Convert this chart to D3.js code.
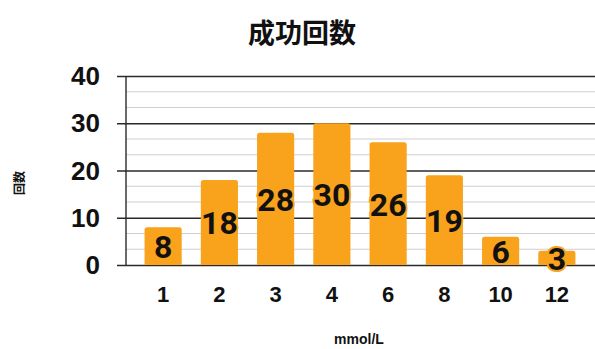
<!DOCTYPE html>
<html>
<head>
<meta charset="utf-8">
<script src="https://cdn.jsdelivr.net/npm/d3@7"></script>
<style>
  html, body { margin: 0; padding: 0; background: #fff; }
  svg { display: block; }
</style>
</head>
<body>
<script>
// Success counts per glucose level (mmol/L)
const categories = ["1", "2", "3", "4", "6", "8", "10", "12"];
const counts = [8, 18, 28, 30, 26, 19, 6, 3];
const yTicks = [0, 10, 20, 30, 40];
const minorTicks = [10/3, 20/3, 40/3, 50/3, 70/3, 80/3, 100/3, 110/3];

const W = 595, H = 349;
const barColor = "#F9A21C";

const svg = d3.select("body").append("svg")
  .attr("width", W).attr("height", H);

const x = d3.scaleBand().domain(categories).range([135, 585]).paddingInner(0.34).paddingOuter(0.17);
const y = d3.scaleLinear().domain([0, 40]).range([265, 76]);

const axisX = 126;

// Title
svg.append("text")
  .attr("x", 302).attr("y", 31)
  .attr("text-anchor", "middle").attr("dominant-baseline", "central")
  .attr("font-family", "'Noto Sans CJK JP', sans-serif")
  .attr("font-weight", 700).attr("font-size", 27)
  .attr("fill", "#111")
  .text("成功回数");

// Minor gridlines
svg.append("g").selectAll("line").data(minorTicks).join("line")
  .attr("x1", axisX).attr("x2", W)
  .attr("y1", d => y(d)).attr("y2", d => y(d))
  .attr("stroke", "#cfcfcf").attr("stroke-width", 1.2);

// Major gridlines with left ticks
const yAxis = d3.axisLeft(y).tickValues(yTicks).tickSize(-(W - axisX)).tickPadding(0).tickFormat("");
const gy = svg.append("g").attr("transform", `translate(${axisX},0)`).call(yAxis);
gy.select(".domain").remove();
gy.selectAll(".tick line").attr("stroke", "#2a2a2a").attr("stroke-width", 1.4)
  .attr("x1", -9);

// Vertical axis line
svg.append("line")
  .attr("x1", axisX).attr("x2", axisX)
  .attr("y1", y(40)).attr("y2", y(0))
  .attr("stroke", "#2a2a2a").attr("stroke-width", 1.4);

// Y tick labels
svg.append("g").selectAll("text").data(yTicks).join("text")
  .attr("x", 100).attr("y", d => y(d))
  .attr("text-anchor", "end").attr("dominant-baseline", "central")
  .attr("font-family", "'Liberation Sans', Arial, sans-serif")
  .attr("font-weight", 700).attr("font-size", 26)
  .attr("fill", "#111")
  .text(d => d);

// Bars with rounded top corners
const r = 2.5;
svg.append("g").selectAll("path").data(counts).join("path")
  .attr("d", (d, i) => {
    const x0 = x(categories[i]), w = x.bandwidth();
    const top = y(d), bot = y(0);
    return `M${x0},${bot} V${top + r} Q${x0},${top} ${x0 + r},${top} H${x0 + w - r} Q${x0 + w},${top} ${x0 + w},${top + r} V${bot} Z`;
  })
  .attr("fill", barColor);

// Value labels inside bars
svg.append("g").selectAll("text").data(counts).join("text")
  .attr("x", (d, i) => x(categories[i]) + x.bandwidth() / 2)
  .attr("y", d => (y(d) + y(0)) / 2 + 1)
  .attr("text-anchor", "middle").attr("dominant-baseline", "central")
  .attr("font-family", "Roboto, 'Liberation Sans', sans-serif")
  .attr("font-weight", 700).attr("font-size", 32)
  .attr("fill", "#111")
  .attr("stroke", barColor).attr("stroke-width", 4)
  .attr("stroke-linejoin", "round")
  .attr("paint-order", "stroke")
  .text(d => d);

// X tick labels
svg.append("g").selectAll("text").data(categories).join("text")
  .attr("x", d => x(d) + x.bandwidth() / 2)
  .attr("y", 302)
  .attr("text-anchor", "middle")
  .attr("font-family", "'Liberation Sans', Arial, sans-serif")
  .attr("font-weight", 700).attr("font-size", 22)
  .attr("fill", "#111")
  .text(d => d);

// Axis titles
svg.append("text")
  .attr("x", 359).attr("y", 344)
  .attr("text-anchor", "middle")
  .attr("font-family", "'Liberation Sans', Arial, sans-serif")
  .attr("font-weight", 700).attr("font-size", 14)
  .attr("fill", "#111")
  .text("mmol/L");

svg.append("text")
  .attr("transform", "translate(18,183) rotate(-90)")
  .attr("text-anchor", "middle").attr("dominant-baseline", "central")
  .attr("font-family", "'Noto Sans CJK JP', sans-serif")
  .attr("font-weight", 700).attr("font-size", 12)
  .attr("fill", "#111")
  .text("回数");
</script>
</body>
</html>
